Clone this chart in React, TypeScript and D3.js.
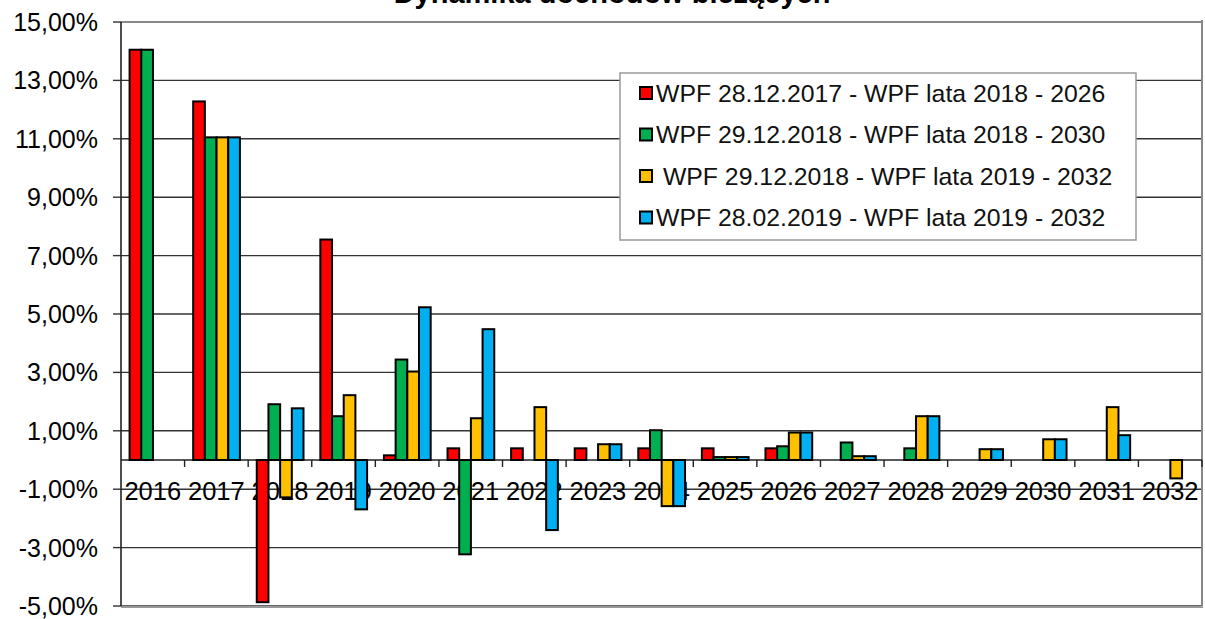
import * as d3 from "d3";

const years = ["2016", "2017", "2018", "2019", "2020", "2021", "2022", "2023", "2024", "2025", "2026", "2027", "2028", "2029", "2030", "2031", "2032"];

const seriesNames = [
  "WPF 28.12.2017 - WPF lata 2018 - 2026",
  "WPF 29.12.2018 - WPF lata 2018 - 2030",
  " WPF 29.12.2018 - WPF lata 2019 - 2032",
  "WPF 28.02.2019 - WPF lata 2019 - 2032",
];

const red = [14.05, 12.28, -4.87, 7.55, 0.16, 0.4, 0.4, 0.4, 0.4, 0.4, 0.4, null, null, null, null, null, null];
const green = [14.05, 11.05, 1.91, 1.5, 3.44, -3.23, null, null, 1.02, 0.1, 0.47, 0.6, 0.4, null, null, null, null];
const yellow = [null, 11.05, -1.28, 2.22, 3.03, 1.43, 1.81, 0.54, -1.58, 0.1, 0.94, 0.13, 1.5, 0.37, 0.71, 1.81, -0.63];
const blue = [null, 11.05, 1.77, -1.69, 5.23, 4.48, -2.4, 0.54, -1.58, 0.1, 0.94, 0.13, 1.5, 0.37, 0.71, 0.85, null];

const yTicks = [15, 13, 11, 9, 7, 5, 3, 1, -1, -3, -5];

const colors = ["#FF0000", "#00B050", "#FFC000", "#00B0F0"];
const allSeries = [red, green, yellow, blue];

const W = 1205;
const H = 619;
const left = 121;
const right = 1202;
const top = 22;
const bottom = 606;
const font = "'Liberation Sans', Arial, sans-serif";

export default function App() {
  const x = d3.scaleBand<string>().domain(years).range([left, right]);
  const bw = x.bandwidth();
  const x1 = d3.scaleBand<number>().domain([0, 1, 2, 3]).range([bw * 0.135, bw * 0.87]);
  const y = d3.scaleLinear().domain([-5, 15]).range([bottom, top]);
  const fmt = (v: number) => v.toFixed(2).replace(".", ",") + "%";

  return (
    <svg width={W} height={H} style={{ position: "absolute", left: 0, top: 0, background: "#fff" }} fontFamily={font}>
      <rect x={0} y={0} width={W} height={H} fill="#fff" />
      {/* title, cut by the top edge as in the source */}
      <text x={612} y={3} textAnchor="middle" fontWeight="bold" fontSize={29} fill="#000">
        Dynamika dochodów bieżących
      </text>

      {/* grid */}
      {yTicks.map((t) => (
        <g key={t}>
          <line x1={left} x2={right} y1={y(t)} y2={y(t)} stroke={t === 15 ? "#888" : "#333"} strokeWidth={t === 15 ? 2 : 1.4} />
          <line x1={left - 8} x2={left} y1={y(t)} y2={y(t)} stroke="#333" strokeWidth={1.4} />
          <text x={98} y={y(t) + 9} textAnchor="end" fontSize={25} fill="#000">
            {fmt(t)}
          </text>
        </g>
      ))}
      {/* frame */}
      <line x1={right} x2={right} y1={top - 2} y2={bottom + 1} stroke="#888" strokeWidth={2} />
      <line x1={left} x2={right + 1} y1={bottom + 1} y2={bottom + 1} stroke="#999" strokeWidth={2} />
      <line x1={left} x2={left} y1={top} y2={bottom} stroke="#222" strokeWidth={1.6} />

      {/* category labels */}
      {years.map((yr) => (
        <text key={yr} x={x(yr)! + bw / 2} y={500} textAnchor="middle" fontSize={25.5} fill="#000">
          {yr}
        </text>
      ))}

      {/* zero axis + ticks */}
      <line x1={left} x2={right} y1={y(0)} y2={y(0)} stroke="#222" strokeWidth={1.6} />
      {years.map((yr, i) =>
        i === 0 ? null : (
          <line key={"t" + yr} x1={x(yr)!} x2={x(yr)!} y1={y(0)} y2={y(0) + 7} stroke="#222" strokeWidth={1.4} />
        )
      )}
      <line x1={right} x2={right} y1={y(0)} y2={y(0) + 7} stroke="#222" strokeWidth={1.4} />

      {/* bars */}
      {allSeries.map((s, si) =>
        s.map((v, i) => {
          if (v === null) return null;
          const y0 = y(0);
          const yv = y(v);
          return (
            <rect
              key={si + "-" + i}
              x={x(years[i])! + x1(si)!}
              y={Math.min(y0, yv)}
              width={x1.bandwidth()}
              height={Math.abs(yv - y0)}
              fill={colors[si]}
              stroke="#000"
              strokeWidth={2}
            />
          );
        })
      )}

      {/* legend */}
      <rect x={620} y={73} width={516} height={167} fill="#fff" stroke="#999" strokeWidth={1.5} />
      {seriesNames.map((n, i) => {
        const cy = 93 + i * 41.5;
        return (
          <g key={n}>
            <rect x={640} y={cy - 6} width={12} height={12} fill={colors[i]} stroke="#000" strokeWidth={2} />
            <text x={656} y={cy + 8.5} fontSize={24.8} fill="#111">
              {n.startsWith(" ") ? "\u00a0" + n.slice(1) : n}
            </text>
          </g>
        );
      })}
    </svg>
  );
}
